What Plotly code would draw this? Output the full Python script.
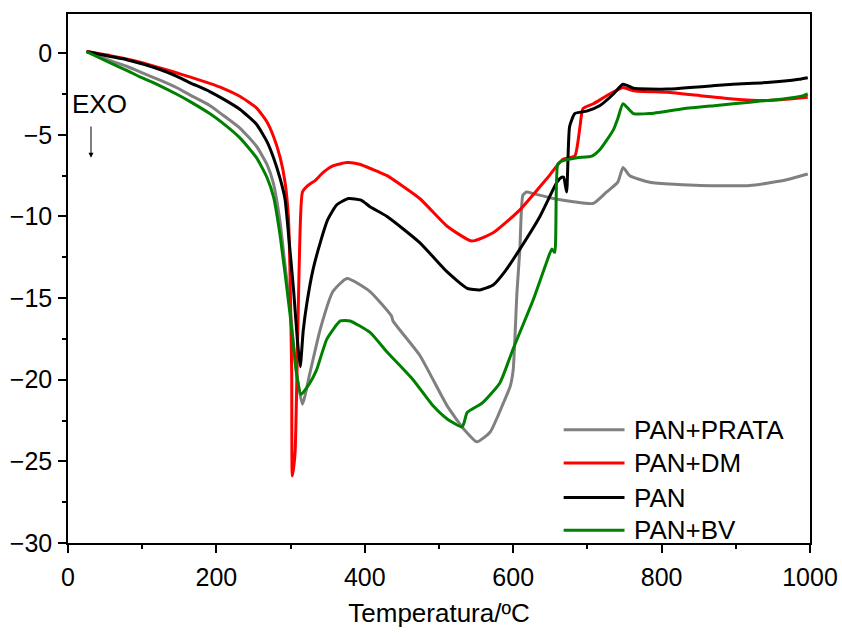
import plotly.graph_objects as go

# DSC curves: temperature (ºC) and heat-flow signal for each sample
t_prata = [25, 57, 79, 97, 124, 146, 164, 191, 209, 232, 254, 268, 277, 286, 292, 299, 308,
           316, 326, 340, 357, 376, 407, 436, 438, 474, 511, 533, 551, 569, 587, 596, 600,
           605, 609, 613, 618, 627, 654, 681, 708, 726, 741, 748, 757, 784, 852, 919, 964, 997]
v_prata = [0.1, -0.45, -0.8, -1.15, -1.65, -2.1, -2.55, -3.2, -3.8, -4.6, -5.7, -6.8, -8.0,
           -10.4, -12.8, -15.5, -19.6, -21.5, -19.6, -16.9, -14.6, -13.8, -14.6, -16.1, -16.4,
           -18.5, -21.6, -23.0, -23.8, -23.2, -21.4, -20.4, -19.4, -14.7, -12.0, -8.7, -8.5,
           -8.6, -8.9, -9.1, -9.2, -8.5, -7.9, -7.0, -7.5, -7.9, -8.1, -8.1, -7.8, -7.4]

t_dm = [25, 57, 79, 101, 124, 146, 164, 191, 209, 232, 254, 268, 277, 286, 292.5, 297, 299,
        301.5, 302.3, 306, 307.5, 310.4, 312.7, 316, 323.5, 333, 344, 357, 376, 393, 420,
        430, 474, 511, 544, 573, 609, 645, 667, 683, 690, 694, 708, 730, 748, 762, 807, 852,
        896, 942, 997]
v_dm = [0.1, -0.15, -0.35, -0.6, -0.9, -1.2, -1.45, -1.85, -2.15, -2.65, -3.35, -4.2, -5.1,
        -6.4, -7.9, -10.0, -13.0, -19.6, -25.9, -24.5, -22.0, -15.5, -11.0, -8.5, -8.1, -7.8,
        -7.3, -6.9, -6.7, -6.8, -7.3, -7.5, -8.9, -10.6, -11.5, -11.0, -9.6, -7.7, -6.5,
        -6.3, -4.5, -3.4, -3.1, -2.5, -2.1, -2.3, -2.4, -2.6, -2.8, -2.9, -2.7]

t_pan = [25, 57, 79, 97, 124, 146, 164, 191, 209, 232, 254, 268, 277, 286, 292.5, 298, 304,
         309, 313, 317, 322, 330, 340, 350, 362, 378, 395, 407, 430, 474, 511, 538, 555, 573,
         590, 609, 636, 659, 665, 668, 672, 676, 683, 699, 717, 735, 745, 748, 755, 762, 807,
         896, 942, 985, 997]
v_pan = [0.1, -0.2, -0.4, -0.62, -1.0, -1.4, -1.8, -2.35, -2.8, -3.45, -4.35, -5.4, -6.4,
         -7.7, -8.95, -11.5, -14.5, -17.5, -19.2, -17.0, -15.3, -13.3, -11.6, -10.2, -9.3,
         -8.9, -9.0, -9.4, -10.0, -11.6, -13.4, -14.4, -14.5, -14.2, -13.3, -12.0, -10.0,
         -7.9, -7.6, -7.6, -8.5, -4.5, -3.7, -3.55, -3.2, -2.5, -2.0, -1.9, -2.0, -2.15, -2.2,
         -1.9, -1.8, -1.6, -1.5]

t_bv = [25, 57, 79, 97, 124, 146, 164, 191, 209, 232, 254, 268, 277, 286, 299, 308, 314,
        326, 335, 349, 367, 380, 407, 430, 465, 492, 511, 531, 534, 538, 559, 582, 600, 627,
        645, 652, 656, 660, 666, 686, 706, 717, 735, 741, 748, 762, 784, 829, 874, 919, 964,
        991, 997]
v_bv = [0.1, -0.6, -1.05, -1.45, -2.0, -2.5, -2.95, -3.7, -4.3, -5.2, -6.4, -7.6, -8.8,
        -11.2, -15.9, -19.6, -20.9, -20.2, -19.4, -17.5, -16.4, -16.4, -17.1, -18.3, -20.0,
        -21.6, -22.4, -22.9, -22.6, -22.0, -21.4, -20.2, -18.1, -15.1, -12.8, -12.0, -12.2,
        -6.8, -6.6, -6.4, -6.3, -5.9, -4.7, -4.0, -3.1, -3.7, -3.7, -3.4, -3.2, -3.0, -2.8,
        -2.6, -2.5]

names = ["PAN+PRATA", "PAN+DM", "PAN", "PAN+BV"]
colors = ["#808080", "#ff0000", "#000000", "#008000"]
series = [(t_prata, v_prata), (t_dm, v_dm), (t_pan, v_pan), (t_bv, v_bv)]

x_ticks = [0, 200, 400, 600, 800, 1000]
y_ticks = [0, -5, -10, -15, -20, -25, -30]

FONT = "Liberation Sans, Arial, sans-serif"
LINE_W = 3

fig = go.Figure()
for name, color, (t, v) in zip(names, colors, series):
    fig.add_trace(go.Scatter(x=t, y=v, mode="lines", name=name, showlegend=False,
                             line=dict(color=color, width=LINE_W, shape="spline",
                                       smoothing=0.5)))

axis_common = dict(
    showline=True, linecolor="black", linewidth=1.5, mirror=True,
    ticks="outside", ticklen=8, tickwidth=1.5, tickcolor="black",
    showgrid=False, zeroline=False, automargin=False,
    tickfont=dict(family=FONT, size=25, color="black"),
)

fig.update_xaxes(range=[0, 1000], tickvals=x_ticks, ticklabelstandoff=3,
                 minor=dict(dtick=100, ticks="outside", ticklen=4, tickwidth=1.5,
                            tickcolor="black"),
                 title=dict(text="Temperatura/ºC", font=dict(family=FONT, size=26,
                                                             color="black"),
                            standoff=14),
                 **axis_common)
fig.update_yaxes(range=[-30, 2.4], tickvals=y_ticks, ticklabelstandoff=1,
                 minor=dict(dtick=2.5, ticks="outside", ticklen=4, tickwidth=1.5,
                            tickcolor="black"),
                 **axis_common)

# EXO direction marker
fig.add_annotation(x=42, y=-3.1, text="EXO", showarrow=False,
                   font=dict(family=FONT, size=26, color="black"))
fig.add_annotation(x=31, y=-6.4, ax=31, ay=-4.4, axref="x", ayref="y", text="",
                   showarrow=True, arrowhead=2, arrowsize=1, arrowwidth=1,
                   arrowcolor="black")

# Legend block in the lower right corner of the plot area
legend_x0, legend_x1, legend_tx = 0.668, 0.750, 0.760
legend_rows = [0.214, 0.151, 0.086, 0.024]
for name, color, ly in zip(names, colors, legend_rows):
    fig.add_shape(type="line", xref="paper", yref="paper", x0=legend_x0, x1=legend_x1,
                  y0=ly, y1=ly, line=dict(color=color, width=LINE_W))
    fig.add_annotation(xref="paper", yref="paper", x=legend_tx, y=ly, text=name,
                       showarrow=False, xanchor="left", yanchor="middle",
                       font=dict(family=FONT, size=26, color="black"))

fig.update_layout(
    width=842, height=633,
    margin=dict(l=68, r=32, t=14, b=90),
    plot_bgcolor="white", paper_bgcolor="white",
    font=dict(family=FONT, size=20, color="black"),
    showlegend=False,
)

fig.write_html("out.html")
